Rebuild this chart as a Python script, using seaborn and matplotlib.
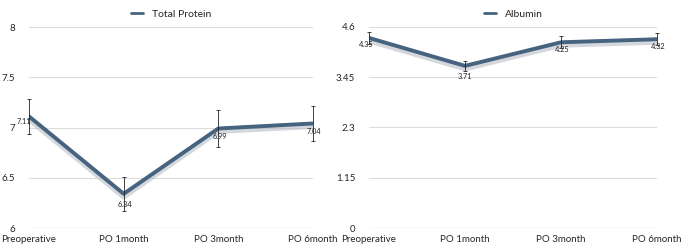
import matplotlib
matplotlib.use("Agg")
import matplotlib.pyplot as plt
import seaborn as sns
import pandas as pd
import numpy as np

categories = ["Preoperative", "PO 1month", "PO 3month", "PO 6month"]
protein = [7.11, 6.34, 6.99, 7.04]
protein_err = [0.17, 0.17, 0.18, 0.17]
albumin = [4.35, 3.71, 4.25, 4.32]
albumin_err = [0.13, 0.11, 0.14, 0.14]
protein_ticks = [6, 6.5, 7, 7.5, 8]
protein_ticklabels = ["6", "6.5", "7", "7.5", "8"]
albumin_ticks = [0, 1.15, 2.3, 3.45, 4.6]
albumin_ticklabels = ["0", "1.15", "2.3", "3.45", "4.6"]

sns.set_style("white")
plt.rcParams['font.family'] = ['Lato', 'DejaVu Sans']

LINE = "#46637f"
fig = plt.figure(figsize=(6.85, 2.47), dpi=100)
ax1 = fig.add_axes([29/685, 1-228/247, (313-29)/685, (228-27)/247])
ax2 = fig.add_axes([369/685, 1-228/247, (657-369)/685, (228-27)/247])

def panel(ax, vals, errs, ticks, ticklabels, name, lab_off):
    df = pd.DataFrame({"x": np.arange(len(categories)), "y": vals})
    # shadow
    sns.lineplot(data=df, x="x", y="y", ax=ax, color="#b8bec6", lw=5, alpha=0.6,
                 legend=False, zorder=2,
                 transform=ax.transData + matplotlib.transforms.ScaledTranslation(0, -2/100, fig.dpi_scale_trans))
    sns.lineplot(data=df, x="x", y="y", ax=ax, color=LINE, lw=2.8, label=name, zorder=3)
    eb = ax.errorbar(df["x"], df["y"], yerr=errs, fmt="none", ecolor="#222222",
                     elinewidth=0.6, capsize=1.5, capthick=0.6, zorder=4)
    for art in eb.lines[1] + eb.lines[2]:
        art.set_clip_on(False)
    for xi, (v, dx, dy) in enumerate(zip(vals, lab_off[0], lab_off[1])):
        ax.annotate(f"{v:.2f}", (xi, v), xytext=(dx, dy), textcoords="offset points",
                    ha="center", va="top", fontsize=5.3, color="#222222", zorder=5)
    ax.set_xlim(0, len(categories) - 1)
    ax.set_ylim(ticks[0], ticks[-1])
    ax.set_yticks(ticks)
    ax.set_yticklabels(ticklabels, fontsize=7)
    ax.set_xticks(range(len(categories)))
    ax.set_xticklabels(categories, fontsize=7)
    ax.tick_params(length=0)
    ax.tick_params(axis="x", pad=5)
    ax.tick_params(axis="y", pad=10)
    for s in ax.spines.values():
        s.set_visible(False)
    ax.grid(axis="y", color="#dcdcdc", lw=0.8)
    ax.axhline(ticks[0], color="#9a9a9a", lw=0.8, zorder=1)
    ax.set_xlabel("")
    ax.set_ylabel("")
    leg = ax.legend(loc="lower center", bbox_to_anchor=(0.5, 1.02), frameon=False,
                    fontsize=7.5, handlelength=1.2, handletextpad=0.8, borderaxespad=0)
    for h in leg.get_lines():
        h.set_linewidth(2)

panel(ax1, protein, protein_err, protein_ticks, protein_ticklabels, "Total Protein",
      ([-4, 1, 1, 1], [-1, -5, -3, -3]))
panel(ax2, albumin, albumin_err, albumin_ticks, albumin_ticklabels, "Albumin",
      ([-2, 0, 1, 1], [-2, -5, -3, -3]))

fig.savefig("out.png", dpi=100)
